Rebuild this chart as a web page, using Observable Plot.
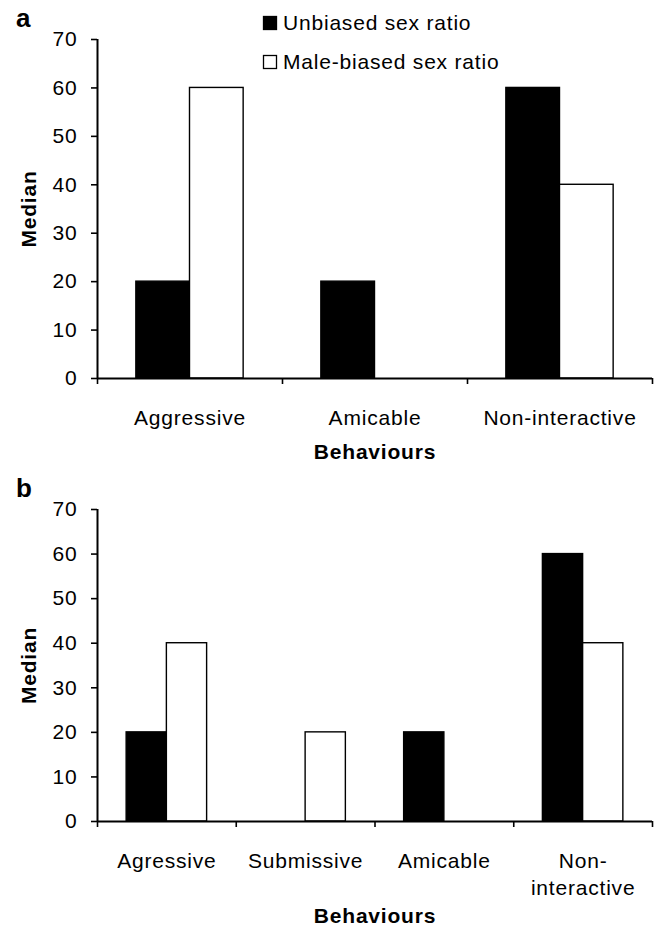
<!DOCTYPE html>
<html>
<head>
<meta charset="utf-8">
<script src="https://cdn.jsdelivr.net/npm/d3@7"></script>
<script src="https://cdn.jsdelivr.net/npm/@observablehq/plot@0.6"></script>
<style>
  html, body { margin: 0; padding: 0; background: #fff; }
  #fig { position: relative; width: 656px; height: 927px; background: #fff; overflow: hidden;
         font-family: "Liberation Sans", Arial, sans-serif; color: #000; }
  #fig .panel { position: absolute; left: 0; }
  #overlay { position: absolute; left: 0; top: 0; }
  g[aria-label="x-axis label"] text, g[aria-label="y-axis label"] text,
  g[aria-label="x-axis label"], g[aria-label="y-axis label"] { font-weight: bold; }
</style>
</head>
<body>
<div id="fig">
  <div class="panel" id="panelA" style="top:0px"></div>
  <div class="panel" id="panelB" style="top:470px"></div>
  <svg id="overlay" width="656" height="927"></svg>
</div>
<script>
// ---- data ----
const seriesNames = ["Unbiased sex ratio", "Male-biased sex ratio"];
const categoriesA = ["Aggressive", "Amicable", "Non-interactive"];
const unbiasedA = [20, 20, 60];
const maleBiasedA = [60, 0, 40];
const categoriesB = ["Agressive", "Submissive", "Amicable", "Non-\ninteractive"];
const unbiasedB = [20, 0, 20, 60];
const maleBiasedB = [40, 20, 0, 40];
const yTicks = [0, 10, 20, 30, 40, 50, 60, 70];
const xTitle = "Behaviours";
const yTitle = "Median";

const BAR = 0.29; // bar width as a fraction of a category slot

function panel(cats, unb, male, opts) {
  const rows = [];
  cats.forEach((c, i) => {
    rows.push({cat: c, i, series: seriesNames[0], value: unb[i]});
    rows.push({cat: c, i, series: seriesNames[1], value: male[i]});
  });
  return Plot.plot({
    width: 656,
    height: opts.height,
    marginTop: opts.marginTop,
    marginBottom: opts.marginBottom,
    marginLeft: 97,
    marginRight: 4,
    style: {fontFamily: '"Liberation Sans", Arial, sans-serif', fontSize: "21px", color: "black", background: "white", letterSpacing: "0.8px", overflow: "visible"},
    x: {domain: [0, cats.length]},
    y: {domain: [0, 70]},
    color: {domain: seriesNames, range: ["black", "white"]},
    marks: [
      Plot.rect(rows, {
        x1: d => d.i + 0.5 - (d.series === seriesNames[0] ? BAR : 0),
        x2: d => d.i + 0.5 + (d.series === seriesNames[0] ? 0 : BAR),
        y1: 0, y2: "value",
        fill: "series", stroke: "black", strokeWidth: 1.4
      }),
      Plot.ruleY([0], {stroke: "black", strokeWidth: 2}),
      Plot.ruleX([0], {stroke: "black", strokeWidth: 2}),
      Plot.axisY({ticks: yTicks, tickSize: 6, tickPadding: 14, strokeWidth: 1.6, tickFormat: d => String(d),
                  label: yTitle, labelAnchor: "center", labelOffset: 76, labelArrow: false}),
      Plot.axisX({ticks: d3.range(cats.length + 1), tickSize: 6, strokeWidth: 1.6, tickFormat: () => "", label: null}),
      Plot.axisX({ticks: cats.map((c, i) => i + 0.5), tickSize: 0, tickPadding: 27, lineHeight: 1.3,
                  tickFormat: v => cats[Math.floor(v)],
                  label: xTitle, labelAnchor: "center", labelOffset: opts.labelOffset, labelArrow: false})
    ]
  });
}

document.getElementById("panelA").appendChild(
  panel(categoriesA, unbiasedA, maleBiasedA, {height: 470, marginTop: 39, marginBottom: 92, labelOffset: 80}));
document.getElementById("panelB").appendChild(
  panel(categoriesB, unbiasedB, maleBiasedB, {height: 457, marginTop: 39, marginBottom: 106, labelOffset: 101}));

// ---- overlay: panel letters and legend ----
const ov = d3.select("#overlay");
const txt = (x, y, s, size, weight) => ov.append("text").attr("x", x).attr("y", y).text(s)
  .attr("font-family", '"Liberation Sans", Arial, sans-serif').attr("font-size", size)
  .attr("font-weight", weight).attr("letter-spacing", "0.8px").attr("fill", "black");
txt(16, 27, "a", 26, "bold");
txt(16, 497, "b", 26, "bold");
const legendFill = ["black", "white"];
seriesNames.forEach((s, k) => {
  const y0 = [16, 55][k];
  ov.append("rect").attr("x", 263.5).attr("y", y0 + 0.5).attr("width", 13).attr("height", 13)
    .attr("fill", legendFill[k]).attr("stroke", "black").attr("stroke-width", 1.3);
  txt(283, y0 + 13.5, s, 21, "normal");
});
</script>
</body>
</html>
